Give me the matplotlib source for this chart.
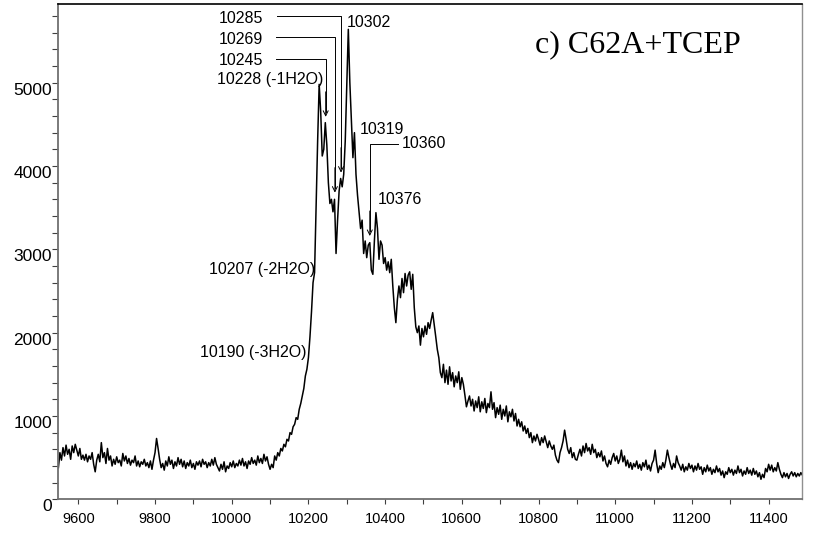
import numpy as np
import matplotlib
matplotlib.use("Agg")
import matplotlib.pyplot as plt

plt.rcParams['font.family'] = ['Liberation Sans', 'DejaVu Sans']

STEP = 4  # Da between points

# intensity trace, in segments (start m/z, counts)
seg_a_start = 9548
seg_a = [380, 560, 470, 620, 520, 650, 540, 600, 480, 640,
         560, 660, 590, 520, 610, 480, 530, 470, 540, 450,
         520, 480, 560, 420, 330, 470, 540, 450, 680, 500,
         560, 430, 610, 470, 520, 400, 480, 420, 510, 440,
         470, 400, 550, 460, 520, 430, 490, 410, 470, 440,
         520, 400, 460, 390, 450, 420, 480, 400, 440, 380,
         460, 360, 470, 560]

seg_b_start = 9804
seg_b = [730, 610, 480, 380, 430, 350, 460, 400, 510, 420,
         470, 370, 450, 400, 500, 420, 480, 390, 460, 370,
         440, 400, 470, 380, 430, 360, 450, 410, 460, 390,
         480, 420, 450, 380, 440, 400, 480, 410, 500, 420,
         380, 340, 420, 360, 450, 330, 400, 370, 440, 390,
         460, 380, 430, 400, 470, 410, 490, 400, 450, 370,
         460, 420, 500, 430, 470, 410, 520, 440, 490, 430,
         540, 460, 510, 420, 360]

seg_c_start = 10104
seg_c = [420, 380, 520, 470, 560, 520, 610, 580, 660, 630,
         720, 700, 800, 780, 870, 900, 980, 960, 1080, 1150,
         1240, 1330, 1480, 1560, 1700, 1950, 2250, 2600, 2720, 3500,
         4300]

seg_d_start = 10228
seg_d = [4980, 4650, 4120, 4200, 4520, 4250, 3800, 3550, 3600, 3450,
         3600, 2950, 3350, 3700, 3850, 3750, 3900, 4300, 4950, 5640,
         5000, 4550, 4100, 4400, 3900, 3650, 3450, 3250, 3350, 2950,
         3100, 2900, 3050, 3080, 2750, 2700, 3100, 3440, 3250, 2880,
         3100, 3050, 2830, 2900]

seg_e_start = 10404
seg_e = [2750, 2850, 2720, 2880, 2560, 2300, 2120, 2400, 2560, 2420,
         2650, 2480, 2710, 2560, 2690, 2730, 2520, 2700, 2300, 2070,
         2000, 2080, 1850, 2050, 1950, 2080, 1980, 2120, 2050, 2150,
         2240, 2100, 1950, 1800, 1700, 1520, 1460, 1620, 1400, 1550,
         1380, 1590, 1420, 1520, 1350, 1480, 1400, 1530, 1320, 1460]

seg_f_start = 10604
seg_f = [1380, 1250, 1110, 1180, 1240, 1120, 1200, 1060, 1180, 1100,
         1230, 1050, 1170, 1090, 1210, 1040, 1150, 1100, 1290, 1080,
         1160, 980, 1100, 1020, 1130, 960, 1080, 1000, 1120, 930,
         1050, 990, 1080, 940, 1030, 880, 960, 870, 930, 820,
         880, 790, 850, 740, 800, 680, 760, 700, 780, 720,
         650, 740, 680, 760, 690, 620, 700, 640, 600, 650,
         530, 470, 440, 560, 620, 700, 830, 720, 600, 550,
         620, 500, 560, 480, 470, 540, 600, 520, 640, 560,
         670, 580, 620, 540, 660, 560, 600, 500, 560, 510,
         580, 460, 520, 430, 390, 470, 420, 500, 550, 460]

seg_g_start = 11004
seg_g = [520, 430, 480, 590, 450, 520, 400, 470, 380, 440,
         360, 430, 390, 460, 370, 420, 350, 440, 390, 470,
         360, 410, 340, 430, 470, 590, 430, 320, 400, 360,
         440, 380, 470, 590, 500, 420, 360, 430, 380, 520,
         440, 400, 350, 420, 330, 390, 350, 430, 370, 410,
         330, 400, 350, 430, 360, 390, 300, 380, 330, 410,
         340, 380, 300, 360, 320, 400, 330, 370, 290, 340,
         260, 330, 300, 380, 320, 360, 290, 350, 310, 400,
         320, 360, 280, 340, 300, 380, 310, 350, 290, 370,
         300, 340, 270, 320, 240, 300, 260, 370, 330, 420,
         350, 410, 330, 380, 340, 440, 360, 300, 260, 320,
         270, 310, 250, 300, 330, 280, 320, 270, 310, 280,
         320, 290]

# peaks marked with a leader line and arrow
arrow_mz = [10245, 10269, 10285, 10360]
arrow_tip = [4590, 3680, 3920, 3160]
leader_y = [5284, 5544, 5800, 4264]
leader_from = [10116, 10116, 10117, 10434]

# text labels
label_text = ["10285", "10269", "10245", "10228 (-1H2O)", "10302", "10319",
              "10360", "10376", "10207 (-2H2O)", "10190 (-3H2O)"]
label_x = [10082, 10082, 10082, 10239, 10300, 10333, 10443, 10382, 10217, 10196]
label_y = [5772, 5520, 5263, 5032, 5719, 4432, 4264, 3592, 2760, 1764]
label_ha = ["right", "right", "right", "right", "left", "left",
            "left", "left", "right", "right"]

segments = [(seg_a_start, seg_a), (seg_b_start, seg_b), (seg_c_start, seg_c),
            (seg_d_start, seg_d), (seg_e_start, seg_e), (seg_f_start, seg_f),
            (seg_g_start, seg_g)]
mz = np.concatenate([start + STEP * np.arange(len(vals)) for start, vals in segments])
counts = np.concatenate([vals for _, vals in segments])

fig = plt.figure(figsize=(8.13, 5.34), dpi=100)
ax = fig.add_axes([58 / 813, 1 - 499.3 / 534, 744 / 813, 495.3 / 534])

ax.plot(mz, counts, color="black", lw=1.1)

for x, tip, ly, lx in zip(arrow_mz, arrow_tip, leader_y, leader_from):
    ax.plot([lx, x, x], [ly, ly, tip + 60], color="black", lw=0.7)
    ax.annotate("", xy=(x, tip), xytext=(x, tip + 300),
                arrowprops=dict(arrowstyle="->", lw=0.7, color="black",
                                shrinkA=0, shrinkB=0, mutation_scale=9))

for t, x, y, ha in zip(label_text, label_x, label_y, label_ha):
    ax.text(x, y, t, ha=ha, va="center", fontsize=11.5)

ax.text(11059, 5452, "c) C62A+TCEP", ha="center", va="center",
        fontsize=23, family="Liberation Serif")

ax.set_xlim(9547, 11487)
ax.set_ylim(0, 5944)
ax.set_xticks(range(9600, 11401, 200))
ax.set_xticks(range(9600, 11487, 100), minor=True)
ax.set_yticks(range(0, 5001, 1000))
ax.set_yticks(range(0, 5944, 200), minor=True)

ax.tick_params(axis="both", which="both", direction="out", color="#404040", width=0.8)
ax.tick_params(axis="x", which="both", length=3.5, pad=6, labelsize=10.5)
ax.tick_params(axis="y", which="both", length=4, pad=0.3, labelsize=12.5)
for lab in ax.get_yticklabels():
    lab.set_verticalalignment("top")

ax.spines["left"].set_color("#707070")
ax.spines["bottom"].set_color("#707070")
ax.spines["left"].set_linewidth(1.3)
ax.spines["bottom"].set_linewidth(1.3)
ax.spines["right"].set_color("#909090")
ax.spines["right"].set_linewidth(1.0)
ax.spines["top"].set_color("black")
ax.spines["top"].set_linewidth(1.2)

fig.savefig("out.png", dpi=100)
